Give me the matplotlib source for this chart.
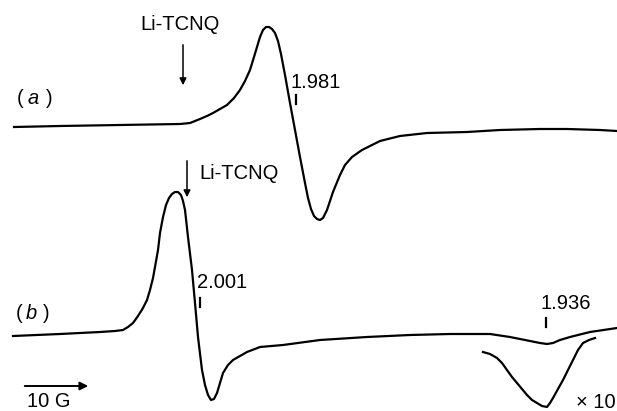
import matplotlib.pyplot as plt
import numpy as np

plt.rcParams['font.family'] = ['Liberation Sans', 'DejaVu Sans']

field_a = [14, 60, 120, 180, 190, 200, 207, 213, 220, 227, 234, 240, 245, 250, 254, 257,
           260, 263, 266, 269, 272, 275, 278, 281, 285, 290, 295, 300, 305, 308, 311, 314,
           317, 320, 323, 327, 333, 340, 345, 352, 362, 380, 400, 427, 467, 500, 540, 567,
           600, 617]
signal_a = [127, 126, 125, 124, 123, 119, 116, 113, 109, 105, 98, 90, 81, 70, 57, 47,
            37, 30, 27, 27, 29, 33, 41, 54, 75, 103, 130, 157, 183, 198, 209, 216,
            219, 220, 218, 210, 192, 175, 165, 157, 150, 141, 136, 133, 132, 130, 129, 129,
            130, 131]

field_b = [13, 60, 100, 115, 123, 128, 133, 138, 143, 147, 150, 153, 155, 158, 160, 163,
           166, 169, 172, 175, 178, 181, 183, 185, 188, 192, 195, 198, 202, 205, 208, 211,
           214, 217, 220, 223, 228, 233, 240, 247, 260, 283, 320, 367, 410, 450, 490, 510,
           520, 530, 540, 547, 553, 560, 570, 590, 617]
signal_b = [336, 334, 332, 331, 330, 327, 323, 316, 308, 300, 290, 278, 267, 250, 233, 217,
            205, 198, 194, 192, 192, 195, 201, 210, 237, 270, 303, 337, 370, 385, 395, 400,
            399, 393, 383, 373, 365, 360, 356, 352, 347, 345, 340, 337, 335, 334, 334, 337,
            339, 341, 343, 344, 343, 340, 337, 332, 328]

# x10 expansion of the 1.936 feature
field_x10 = [483, 490, 497, 502, 507, 512, 517, 522, 527, 532, 537, 542, 547, 550, 553, 558,
             563, 568, 573, 578, 583, 589, 595]
signal_x10 = [352, 354, 358, 363, 370, 377, 383, 389, 395, 400, 403, 406, 407, 403, 398, 389,
              380, 370, 360, 350, 343, 340, 338]

g_labels = ['1.981', '2.001', '1.936']
g_ticks = [296, 200, 546]
g_tick_y = [99, 302, 322]
g_text_xy = [(290, 82), (197, 282), (541, 303)]

fig = plt.figure(figsize=(6.17, 4.11), dpi=100)
ax = fig.add_axes([0, 0, 1, 1])
ax.set_xlim(0, 617)
ax.set_ylim(411, 0)
ax.axis('off')

lw = 1.6
ax.plot(field_a, signal_a, color='black', lw=lw, solid_joinstyle='round')
ax.plot(field_b, signal_b, color='black', lw=lw, solid_joinstyle='round')
ax.plot(field_x10, signal_x10, color='black', lw=lw, solid_joinstyle='round')

fs = 14.5
# g-value markers
for lab, gx, gy, (tx, ty) in zip(g_labels, g_ticks, g_tick_y, g_text_xy):
    ax.plot([gx, gx], [gy - 4, gy + 5], color='black', lw=1.6)
    ax.text(tx, ty, lab, fontsize=fs, ha='left', va='center')

# Li-TCNQ arrows
ax.annotate('', xy=(183, 88), xytext=(183, 42),
            arrowprops=dict(arrowstyle='-|>', color='black', lw=1.1, mutation_scale=10))
ax.text(180, 24, 'Li-TCNQ', fontsize=fs, ha='center', va='center')
ax.annotate('', xy=(187, 200), xytext=(187, 158),
            arrowprops=dict(arrowstyle='-|>', color='black', lw=1.1, mutation_scale=10))
ax.text(199, 173, 'Li-TCNQ', fontsize=fs, ha='left', va='center')

# trace labels
ax.text(17, 98, '(', fontsize=fs, ha='left', va='center')
ax.text(28, 98, 'a', fontsize=fs, ha='left', va='center', style='italic')
ax.text(46, 98, ')', fontsize=fs, ha='left', va='center')
ax.text(16, 313, '(', fontsize=fs, ha='left', va='center')
ax.text(26, 313, 'b', fontsize=fs, ha='left', va='center', style='italic')
ax.text(43, 313, ')', fontsize=fs, ha='left', va='center')

ax.text(576, 402, '× 10', fontsize=fs, ha='left', va='center')

# field scale
ax.annotate('', xy=(91, 386), xytext=(22, 386),
            arrowprops=dict(arrowstyle='-|>', color='black', lw=1.4, mutation_scale=12))
ax.text(27, 411, '10 G', fontsize=fs, ha='left', va='bottom')

plt.savefig('out.png', dpi=100)
